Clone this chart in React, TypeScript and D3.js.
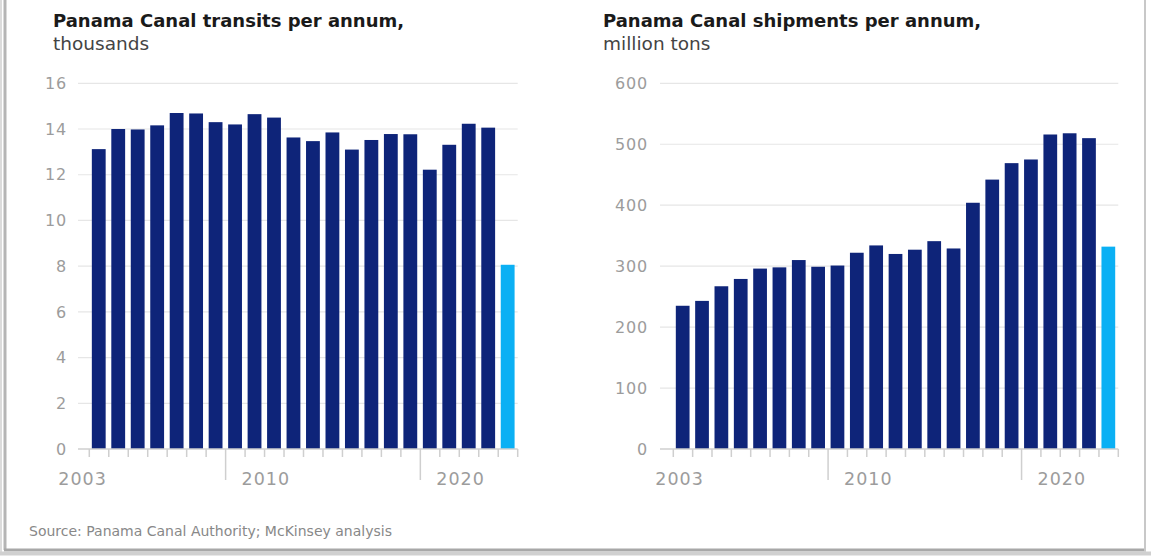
import React from 'react';
import * as d3 from 'd3';

const transitYears = [2003, 2004, 2005, 2006, 2007, 2008, 2009, 2010, 2011, 2012, 2013, 2014, 2015, 2016, 2017, 2018, 2019, 2020, 2021, 2022, 2023, 2024];
const transitValues = [13.12, 14.0, 13.98, 14.16, 14.7, 14.68, 14.3, 14.2, 14.65, 14.5, 13.63, 13.47, 13.85, 13.1, 13.52, 13.78, 13.77, 12.22, 13.31, 14.23, 14.06, 8.06];

const shipmentYears = [2002, 2003, 2004, 2005, 2006, 2007, 2008, 2009, 2010, 2011, 2012, 2013, 2014, 2015, 2016, 2017, 2018, 2019, 2020, 2021, 2022, 2023, 2024];
const shipmentValues = [235, 243, 267, 279, 296, 298, 310, 299, 301, 322, 334, 320, 327, 341, 329, 404, 442, 469, 475, 516, 518, 510, 332];

const transitTicks = [0, 2, 4, 6, 8, 10, 12, 14, 16];
const shipmentTicks = [0, 100, 200, 300, 400, 500, 600];

const xTickLabels = ['2003', '2010', '2020'];
const majorYears = [2010, 2020];

const NAVY = '#0e2479';
const LIGHT = '#0bb0f4';
const FONT = "'DejaVu Sans', sans-serif";

type PanelProps = {
  title: string;
  subtitle: string;
  titleX: number;
  gridX0: number;
  band0: number;
  band1: number;
  yTop: number;
  yBase: number;
  years: number[];
  values: number[];
  ticks: number[];
  labelGap: number;
  firstLabelDx: number;
};

function Panel(p: PanelProps) {
  const x = d3.scaleBand<number>().domain(p.years).range([p.band0, p.band1]).padding(0);
  const y = d3.scaleLinear().domain([0, p.ticks[p.ticks.length - 1]]).range([p.yBase, p.yTop]);
  const step = x.step();
  const boundaries = p.years.map((yr) => ({ pos: x(yr) as number, major: majorYears.includes(yr) }));
  boundaries.push({ pos: p.band1, major: false });
  const last = p.years.length - 1;

  return (
    <g>
      <text x={p.titleX} y={27} fontFamily={FONT} fontWeight="bold" fontSize={18} fill="#1a1a1a">{p.title}</text>
      <text x={p.titleX} y={50} fontFamily={FONT} fontSize={18.5} fill="#444">{p.subtitle}</text>
      {p.ticks.map((t) => (
        <g key={t}>
          {t !== 0 && (
            <line x1={p.gridX0} x2={p.band1} y1={y(t)} y2={y(t)} stroke="#e6e6e6" strokeWidth={1.2} />
          )}
          <text x={p.gridX0 - p.labelGap} y={y(t)} dy="0.36em" textAnchor="end" fontFamily={FONT} fontSize={16} letterSpacing={0.8} fill="#9c9c9c">{t}</text>
        </g>
      ))}
      {p.values.map((v, i) => (
        <rect key={p.years[i]} x={(x(p.years[i]) as number) + step * 0.13} width={step * 0.71} y={y(v)} height={y(0) - y(v)} fill={i === last ? LIGHT : NAVY} />
      ))}
      <line x1={p.gridX0} x2={p.band1} y1={y(0)} y2={y(0)} stroke="#cfcfcf" strokeWidth={1.5} />
      {boundaries.map((b, i) => (
        <line key={i} x1={b.pos} x2={b.pos} y1={y(0)} y2={y(0) + (b.major ? 31 : 8)} stroke="#cfcfcf" strokeWidth={1.5} />
      ))}
      {xTickLabels.map((lab, i) => {
        const px = i === 0 ? (x(p.years[0]) as number) + p.firstLabelDx : (x(+lab) as number) + 16;
        return (
          <text key={lab} x={px} y={485} fontFamily={FONT} fontSize={17.5} letterSpacing={1} fill="#9c9c9c">{lab}</text>
        );
      })}
    </g>
  );
}

export default function App() {
  return (
    <div style={{ position: 'absolute', left: 0, top: 0 }}>
      <svg width={1151} height={556} style={{ display: 'block', background: '#fff' }}>
        <Panel
          title="Panama Canal transits per annum,"
          subtitle="thousands"
          titleX={53}
          gridX0={78}
          band0={89.3}
          band1={517.7}
          yTop={83.3}
          yBase={449}
          years={transitYears}
          values={transitValues}
          ticks={transitTicks}
          labelGap={11}
          firstLabelDx={-31}
        />
        <Panel
          title="Panama Canal shipments per annum,"
          subtitle="million tons"
          titleX={603}
          gridX0={660}
          band0={673.3}
          band1={1118.3}
          yTop={83.3}
          yBase={449}
          years={shipmentYears}
          values={shipmentValues}
          ticks={shipmentTicks}
          labelGap={12}
          firstLabelDx={-18}
        />
        <text x={29} y={536} fontFamily={FONT} fontSize={14} fill="#888">Source: Panama Canal Authority; McKinsey analysis</text>
        <line x1={5} x2={5} y1={0} y2={550} stroke="#b5b5b5" strokeWidth={3} />
        <line x1={1} x2={1} y1={0} y2={552} stroke="#dcdcdc" strokeWidth={2} />
        <line x1={4} x2={1146} y1={550} y2={550} stroke="#a8a8a8" strokeWidth={3} />
        <line x1={0} x2={1151} y1={553.5} y2={553.5} stroke="#d0d0d0" strokeWidth={4} />
        <line x1={1145} x2={1145} y1={0} y2={551} stroke="#c8c8c8" strokeWidth={2} />
      </svg>
    </div>
  );
}
